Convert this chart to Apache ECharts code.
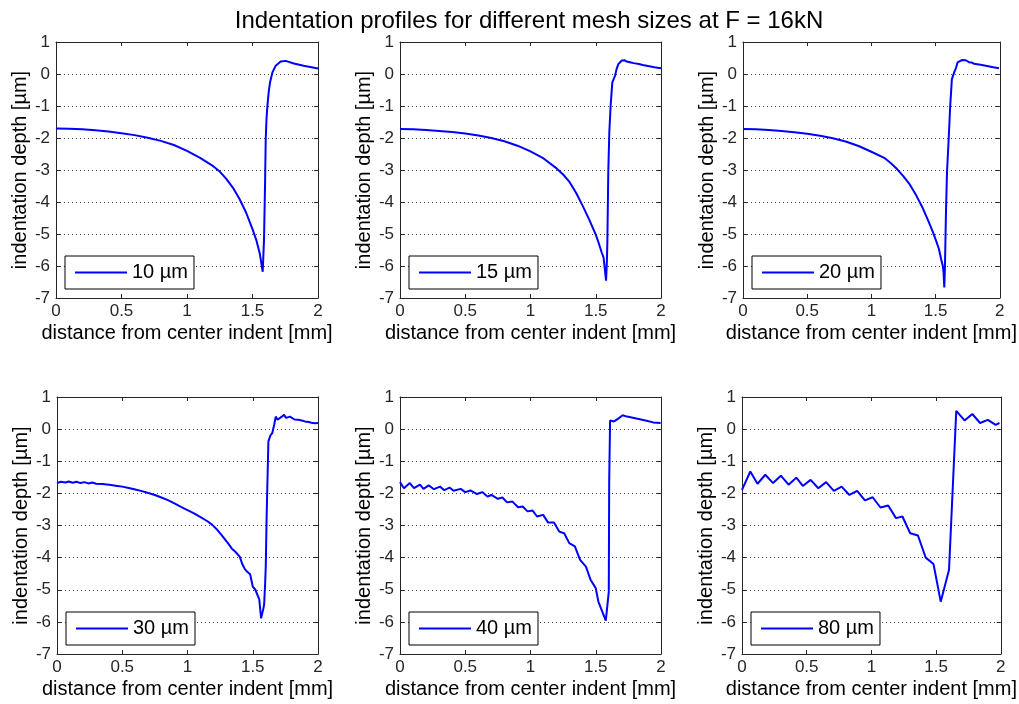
<!DOCTYPE html>
<html><head><meta charset="utf-8">
<script src="https://cdn.jsdelivr.net/npm/echarts@6/dist/echarts.min.js"></script>
<style>html,body{margin:0;padding:0;background:#fff}#c{width:1019px;height:704px}</style>
</head><body><div id="c"></div>
<script>
const chartTitle = 'Indentation profiles for different mesh sizes at F = 16kN';
const xAxisName = 'distance from center indent [mm]';
const yAxisName = 'indentation depth [\u00b5m]';
const meshLabels = ['10 \u00b5m', '15 \u00b5m', '20 \u00b5m', '30 \u00b5m', '40 \u00b5m', '80 \u00b5m'];
const xMin = 0, xMax = 2, xStep = 0.5;
const yMin = -7, yMax = 1, yStep = 1;

const x10 = [0, 0.1, 0.2, 0.3, 0.4, 0.5, 0.6, 0.7, 0.8, 0.9, 1.0, 1.1, 1.2, 1.25, 1.3, 1.35, 1.4, 1.45, 1.5, 1.53, 1.555, 1.578, 1.588, 1.596, 1.601, 1.607, 1.614, 1.624, 1.634, 1.652, 1.677, 1.715, 1.753, 1.816, 1.89, 2.0];
const y10 = [-1.70, -1.71, -1.73, -1.76, -1.80, -1.85, -1.91, -1.99, -2.09, -2.22, -2.40, -2.62, -2.88, -3.05, -3.28, -3.55, -3.90, -4.32, -4.85, -5.2, -5.6, -6.18, -5.16, -3.39, -2.03, -1.4, -0.99, -0.55, -0.26, 0.05, 0.26, 0.39, 0.41, 0.33, 0.26, 0.17];

const x15 = [0, 0.1, 0.2, 0.3, 0.4, 0.5, 0.6, 0.7, 0.8, 0.9, 1.0, 1.1, 1.2, 1.25, 1.3, 1.35, 1.4, 1.45, 1.5, 1.52, 1.545, 1.56, 1.571, 1.579, 1.585, 1.589, 1.596, 1.604, 1.614, 1.627, 1.638, 1.648, 1.66, 1.673, 1.685, 1.699, 1.71, 1.72, 1.737, 1.75, 1.77, 1.79, 1.83, 1.86, 1.9, 1.95, 2.0];
const y15 = [-1.72, -1.73, -1.75, -1.78, -1.81, -1.86, -1.92, -2.0, -2.1, -2.24, -2.42, -2.64, -2.95, -3.14, -3.38, -3.72, -4.12, -4.55, -5.02, -5.25, -5.57, -5.74, -5.8, -6.46, -5.9, -5.25, -3.07, -1.82, -0.99, -0.26, -0.15, -0.05, 0.16, 0.31, 0.36, 0.42, 0.39, 0.43, 0.39, 0.41, 0.36, 0.34, 0.31, 0.28, 0.25, 0.21, 0.18];

const x20 = [0, 0.1, 0.2, 0.3, 0.4, 0.5, 0.6, 0.7, 0.8, 0.9, 1.0, 1.1, 1.15, 1.2, 1.25, 1.3, 1.35, 1.4, 1.45, 1.48, 1.51, 1.526, 1.543, 1.556, 1.562, 1.568, 1.573, 1.576, 1.581, 1.589, 1.602, 1.614, 1.627, 1.645, 1.66, 1.671, 1.685, 1.709, 1.72, 1.735, 1.76, 1.78, 1.8, 1.862, 1.9, 1.95, 1.994];
const y20 = [-1.72, -1.73, -1.75, -1.78, -1.82, -1.87, -1.93, -2.01, -2.11, -2.25, -2.43, -2.62, -2.78, -2.97, -3.2, -3.46, -3.8, -4.19, -4.65, -4.95, -5.28, -5.47, -5.78, -5.99, -6.2, -6.67, -6.0, -5.36, -4.32, -3.07, -2.03, -0.99, -0.16, 0.05, 0.2, 0.36, 0.37, 0.44, 0.4, 0.43, 0.37, 0.36, 0.32, 0.28, 0.25, 0.21, 0.18];

const x30 = [0, 0.03, 0.064, 0.09, 0.12, 0.15, 0.18, 0.21, 0.24, 0.27, 0.3, 0.35, 0.4, 0.45, 0.5, 0.55, 0.6, 0.65, 0.7, 0.75, 0.8, 0.85, 0.9, 0.95, 1.0, 1.05, 1.1, 1.15, 1.19, 1.22, 1.26, 1.29, 1.31, 1.34, 1.365, 1.4, 1.42, 1.44, 1.46, 1.48, 1.5, 1.52, 1.535, 1.55, 1.564, 1.578, 1.587, 1.595, 1.6, 1.606, 1.612, 1.62, 1.635, 1.65, 1.665, 1.676, 1.69, 1.7, 1.72, 1.74, 1.755, 1.77, 1.785, 1.8, 1.82, 1.85, 1.875, 1.9, 1.93, 1.95, 1.975, 2.0];
const y30 = [-1.68, -1.64, -1.66, -1.63, -1.67, -1.64, -1.68, -1.65, -1.69, -1.66, -1.70, -1.71, -1.73, -1.76, -1.79, -1.83, -1.88, -1.93, -1.99, -2.05, -2.13, -2.21, -2.31, -2.42, -2.52, -2.62, -2.74, -2.86, -2.98, -3.1, -3.29, -3.45, -3.55, -3.72, -3.81, -3.97, -4.2, -4.36, -4.45, -4.52, -4.9, -5.0, -5.06, -5.3, -5.89, -5.65, -5.47, -4.8, -4.23, -2.8, -1.73, -0.38, -0.2, -0.12, 0.15, 0.39, 0.29, 0.32, 0.38, 0.45, 0.35, 0.32, 0.39, 0.34, 0.3, 0.29, 0.27, 0.24, 0.22, 0.2, 0.18, 0.19];

const x40 = [0, 0.03, 0.075, 0.107, 0.153, 0.18, 0.22, 0.26, 0.307, 0.34, 0.38, 0.41, 0.465, 0.5, 0.54, 0.59, 0.63, 0.67, 0.7, 0.75, 0.785, 0.82, 0.86, 0.905, 0.94, 0.977, 1.015, 1.05, 1.097, 1.135, 1.18, 1.22, 1.258, 1.297, 1.34, 1.38, 1.425, 1.46, 1.5, 1.52, 1.577, 1.6, 1.603, 1.61, 1.64, 1.67, 1.706, 1.74, 1.82, 1.89, 1.94, 1.997];
const y40 = [-1.65, -1.84, -1.68, -1.84, -1.73, -1.86, -1.75, -1.87, -1.79, -1.90, -1.82, -1.92, -1.86, -1.96, -1.91, -2.02, -1.96, -2.10, -2.05, -2.17, -2.13, -2.28, -2.25, -2.43, -2.41, -2.56, -2.53, -2.72, -2.67, -2.91, -2.91, -3.19, -3.24, -3.55, -3.65, -4.07, -4.28, -4.69, -4.95, -5.37, -5.96, -5.06, -1.63, 0.27, 0.24, 0.32, 0.43, 0.39, 0.32, 0.26, 0.21, 0.19];

const x80 = [0, 0.064, 0.12, 0.18, 0.24, 0.30, 0.36, 0.42, 0.47, 0.53, 0.59, 0.65, 0.71, 0.77, 0.83, 0.89, 0.95, 1.01, 1.07, 1.13, 1.19, 1.24, 1.30, 1.36, 1.42, 1.48, 1.536, 1.60, 1.656, 1.72, 1.78, 1.84, 1.90, 1.96, 1.99];
const y80 = [-1.89, -1.32, -1.70, -1.42, -1.68, -1.45, -1.73, -1.51, -1.77, -1.58, -1.84, -1.65, -1.92, -1.79, -2.05, -1.92, -2.22, -2.12, -2.44, -2.38, -2.77, -2.72, -3.24, -3.31, -4.0, -4.2, -5.37, -4.38, 0.57, 0.27, 0.47, 0.19, 0.29, 0.135, 0.19];

const seriesX = [x10, x15, x20, x30, x40, x80];
const seriesY = [y10, y15, y20, y30, y40, y80];

const FONT = "'Liberation Sans', Arial, Helvetica, sans-serif";
const rects = [[56,42,262,256],[400,42,261,256],[743,42,261,256],[57,397,261,257],[400,397,261,257],[742,397,262,257]];
const frameColor = '#262626';

const grids = [], xAxes = [], yAxes = [], series = [], legends = [];
rects.forEach((r, i) => {
  grids.push({left: r[0], top: r[1], width: r[2], height: r[3], containLabel: false});
  const tick = {show: true, inside: true, length: 4, lineStyle: {color: frameColor}};
  const line = {show: true, onZero: false, lineStyle: {color: frameColor, width: 1}};
  xAxes.push({type: 'value', gridIndex: i, position: 'bottom', min: xMin, max: xMax, interval: xStep,
    axisLine: line, axisTick: tick, splitLine: {show: false},
    axisLabel: {margin: 5, fontSize: 17, color: '#262626', fontFamily: FONT},
    name: xAxisName, nameLocation: 'middle', nameGap: 25,
    nameTextStyle: {fontSize: 20, color: '#000', fontFamily: FONT}});
  xAxes.push({type: 'value', gridIndex: i, position: 'top', min: xMin, max: xMax, interval: xStep,
    axisLine: line, axisTick: tick, splitLine: {show: false}, axisLabel: {show: false}});
  yAxes.push({type: 'value', gridIndex: i, position: 'left', min: yMin, max: yMax, interval: yStep,
    axisLine: line, axisTick: tick,
    splitLine: {show: true, lineStyle: {color: '#444', width: 1, type: [1, 3]}},
    axisLabel: {margin: 6, fontSize: 17, color: '#262626', fontFamily: FONT},
    name: yAxisName, nameLocation: 'middle', nameGap: 26, nameRotate: 90,
    nameTextStyle: {fontSize: 20, color: '#000', fontFamily: FONT}});
  yAxes.push({type: 'value', gridIndex: i, position: 'right', min: yMin, max: yMax, interval: yStep,
    axisLine: line, axisTick: tick, splitLine: {show: false}, axisLabel: {show: false}});
  series.push({type: 'line', name: meshLabels[i], xAxisIndex: 2 * i, yAxisIndex: 2 * i,
    data: seriesX[i].map((x, k) => [x, seriesY[i][k]]),
    symbol: 'none', showSymbol: false, clip: true,
    lineStyle: {color: '#0000ff', width: 2}, itemStyle: {color: '#0000ff'}});
  legends.push({data: [meshLabels[i]], left: r[0] + 9, top: r[1] + r[3] - 42, orient: 'horizontal',
    icon: 'rect', itemWidth: 52, itemHeight: 2, itemGap: 0, padding: [6, 6, 6, 10],
    borderColor: '#000', borderWidth: 1, backgroundColor: '#fff', selectedMode: false,
    textStyle: {fontSize: 20, color: '#000', fontFamily: FONT, lineHeight: 21}});
});

const chart = echarts.init(document.getElementById('c'), null, {renderer: 'canvas'});
chart.setOption({
  animation: false,
  backgroundColor: '#fff',
  title: {text: chartTitle, left: 524, top: 4, textAlign: 'center',
    textStyle: {fontSize: 24, fontWeight: 'normal', color: '#000', fontFamily: FONT}},
  grid: grids, xAxis: xAxes, yAxis: yAxes, series: series, legend: legends
});
</script></body></html>
